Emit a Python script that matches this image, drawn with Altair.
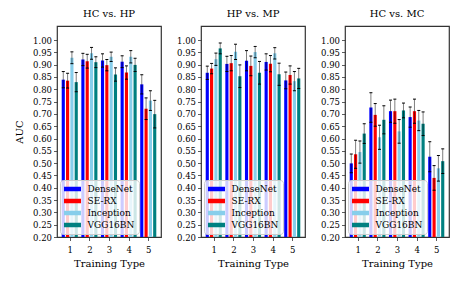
import altair as alt
import pandas as pd

models = ["DenseNet", "SE-RX", "Inception", "VGG16BN"]
colors = ["#0000ff", "#ff0000", "#87ceeb", "#008080"]
training_types = [1, 2, 3, 4, 5]
panel_titles = ["HC vs. HP", "HP vs. MP", "HC vs. MC"]
y_ticks = [0.20, 0.25, 0.30, 0.35, 0.40, 0.45, 0.50, 0.55, 0.60,
           0.65, 0.70, 0.75, 0.80, 0.85, 0.90, 0.95, 1.00]

# mean AUC per model (rows) and training type (columns)
hc_hp_mean = [
    [0.839, 0.921, 0.917, 0.912, 0.820],
    [0.835, 0.914, 0.898, 0.868, 0.721],
    [0.928, 0.946, 0.932, 0.932, 0.754],
    [0.829, 0.910, 0.860, 0.899, 0.699],
]
hc_hp_err = [
    [0.033, 0.025, 0.027, 0.024, 0.039],
    [0.030, 0.028, 0.023, 0.027, 0.044],
    [0.024, 0.024, 0.019, 0.025, 0.040],
    [0.039, 0.022, 0.027, 0.027, 0.056],
]
hp_mp_mean = [
    [0.867, 0.903, 0.916, 0.911, 0.836],
    [0.884, 0.906, 0.895, 0.904, 0.858],
    [0.922, 0.952, 0.951, 0.946, 0.833],
    [0.966, 0.853, 0.867, 0.861, 0.844],
]
hp_mp_err = [
    [0.027, 0.031, 0.041, 0.033, 0.034],
    [0.021, 0.031, 0.040, 0.033, 0.037],
    [0.025, 0.031, 0.023, 0.023, 0.039],
    [0.022, 0.046, 0.046, 0.045, 0.041],
]
hc_mc_mean = [
    [0.499, 0.726, 0.711, 0.687, 0.526],
    [0.536, 0.696, 0.711, 0.711, 0.440],
    [0.545, 0.605, 0.629, 0.673, 0.479],
    [0.620, 0.676, 0.714, 0.660, 0.508],
]
hc_mc_err = [
    [0.038, 0.060, 0.045, 0.041, 0.061],
    [0.057, 0.046, 0.049, 0.049, 0.050],
    [0.045, 0.049, 0.048, 0.041, 0.052],
    [0.040, 0.057, 0.030, 0.048, 0.050],
]

offsets = [-0.33, -0.11, 0.11, 0.33]
bar_w = 0.16
FONT = "DejaVu Serif"


def panel(idx, title, means, errs):
    rows = []
    for mi, m in enumerate(models):
        for ti, t in enumerate(training_types):
            v = means[mi][ti]
            e = errs[mi][ti]
            xc = t + offsets[mi]
            rows.append(dict(model=m, t=t, xc=xc, x0=xc - bar_w / 2, x1=xc + bar_w / 2,
                             v=v, lo=v - e, hi=v + e, base=0.2))
    df = pd.DataFrame(rows)
    xs = alt.Scale(domain=[0.35, 5.65], nice=False, zero=False)
    ys = alt.Scale(domain=[0.2, 1.057], nice=False, zero=False)
    base = alt.Chart(df)
    yaxis = alt.Axis(values=y_ticks, format=".2f", title="AUC" if idx == 0 else None,
                     titlePadding=8, labelOverlap=False, labelBound=False, labelFlush=False)
    xaxis = alt.Axis(values=training_types, format="d", title="Training Type",
                     labelPadding=5, titlePadding=4, labelOverlap=False,
                     labelBound=False, labelFlush=False)
    bars = base.mark_bar(clip=True).encode(
        x=alt.X("x0:Q", scale=xs, axis=xaxis),
        x2="x1:Q",
        y=alt.Y("v:Q", scale=ys, axis=yaxis),
        y2="base:Q",
        color=alt.Color("model:N", scale=alt.Scale(domain=models, range=colors),
                        legend=alt.Legend(
                            title=None, orient="bottom-left", offset=3, padding=4,
                            fillColor="rgba(255,255,255,0.8)", strokeColor="#cccccc",
                            cornerRadius=3, symbolType="M-1.7,-0.45H1.7V0.45H-1.7Z",
                            symbolSize=100, symbolOffset=3.5, labelOffset=10,
                            rowPadding=2, labelFont=FONT, labelFontSize=9,
                            symbolStrokeWidth=0, symbolOpacity=1, labelColor="black")),
    )
    rules = base.mark_rule(color="black", opacity=0.5, strokeWidth=1, clip=True).encode(
        x=alt.X("xc:Q", scale=xs, axis=xaxis), y=alt.Y("lo:Q", scale=ys, axis=yaxis), y2="hi:Q")
    cap_hi = base.mark_tick(orient="horizontal", color="black", size=3, thickness=1,
                            opacity=1, clip=True).encode(
        x=alt.X("xc:Q", scale=xs, axis=xaxis), y=alt.Y("hi:Q", scale=ys, axis=yaxis))
    cap_lo = base.mark_tick(orient="horizontal", color="black", size=3, thickness=1,
                            opacity=1, clip=True).encode(
        x=alt.X("xc:Q", scale=xs, axis=xaxis), y=alt.Y("lo:Q", scale=ys, axis=yaxis))
    return alt.layer(bars, rules, cap_hi, cap_lo).properties(
        width=104, height=211,
        title=alt.TitleParams(title, font=FONT, fontSize=10, fontWeight="normal",
                              offset=7, anchor="middle", frame="group", color="black"),
    )


charts = [
    panel(0, panel_titles[0], hc_hp_mean, hc_hp_err),
    panel(1, panel_titles[1], hp_mp_mean, hp_mp_err),
    panel(2, panel_titles[2], hc_mc_mean, hc_mc_err),
]

chart = alt.hconcat(*charts, spacing=13).resolve_scale(color="independent").resolve_legend(
    color="independent").properties(
    padding={"left": 5, "top": 0, "right": 0, "bottom": 0}
).configure_view(
    stroke="#333333", strokeWidth=1.2
).configure_axis(
    domain=False, grid=False, tickColor="#333333", tickSize=3.5, tickWidth=0.8,
    labelFont=FONT, labelFontSize=8.5, labelColor="black", labelPadding=2,
    titleFont=FONT, titleFontSize=10, titleFontWeight="normal", titleColor="black",
)

chart.save("out.html", embed_options={"renderer": "svg", "actions": False})
